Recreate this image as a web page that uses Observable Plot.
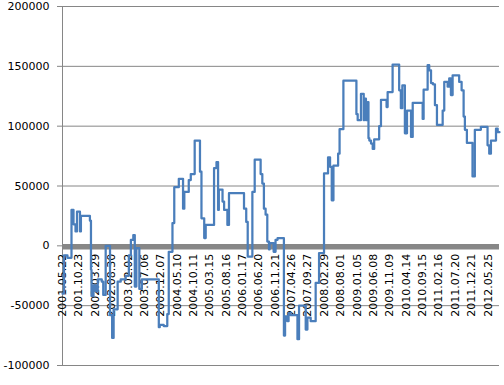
<!DOCTYPE html>
<html>
<head>
<meta charset="utf-8">
<script src="https://cdn.jsdelivr.net/npm/d3@7"></script>
<script src="https://cdn.jsdelivr.net/npm/@observablehq/plot@0.6"></script>
<style>
  html, body { margin: 0; padding: 0; background: #fff; }
  #chart { width: 504px; height: 385px; }
</style>
</head>
<body>
<div id="chart"></div>
<script>
// Tick labels shown along the category axis
const tickLabels = [
  "2001.05.22","2001.10.23","2002.03.29","2002.08.30","2003.02.02","2003.07.06",
  "2003.12.07","2004.05.10","2004.10.11","2005.03.15","2005.08.16","2006.01.17",
  "2006.06.20","2006.11.21","2007.04.26","2007.09.27","2008.02.29","2008.08.01",
  "2009.01.05","2009.06.08","2009.11.09","2010.04.14","2010.09.15","2011.02.16",
  "2011.07.20","2011.12.21","2012.05.25"
];
const yTicks = [-100000, -50000, 0, 50000, 100000, 150000, 200000];

// Series: dates where the level changes, and the level from that date on
const dates = [
  "2001-05-22","2001-06-05","2001-07-08","2001-08-15","2001-09-03","2001-09-22","2001-10-06",
  "2001-11-03","2001-11-12","2002-02-05","2002-02-15","2002-02-20","2002-03-11","2002-04-01",
  "2002-04-20","2002-05-28","2002-06-11","2002-07-04","2002-08-14","2002-09-03","2002-09-17",
  "2002-10-25","2002-11-23","2003-01-09","2003-02-08","2003-02-27","2003-03-22","2003-04-05",
  "2003-04-20","2003-05-18","2003-06-11","2003-11-18","2003-11-27","2004-01-03","2004-02-06",
  "2004-02-20","2004-03-26","2004-04-12","2004-05-25","2004-07-04","2004-07-16","2004-08-27",
  "2004-09-15","2004-10-22","2004-12-11","2004-12-25","2005-01-20","2005-02-03","2005-04-23",
  "2005-05-16","2005-05-31","2005-06-07","2005-07-12","2005-07-27","2005-08-27","2005-09-11",
  "2006-01-31","2006-02-21","2006-03-07","2006-04-20","2006-05-12","2006-07-07","2006-07-23",
  "2006-08-07","2006-08-23","2006-09-08","2006-09-24","2006-09-30","2006-11-07","2006-11-25",
  "2006-12-14","2007-02-12","2007-02-23","2007-03-16","2007-03-28","2007-04-16","2007-06-20",
  "2007-07-05","2007-09-06","2007-09-22","2007-10-23","2007-12-09","2008-01-10","2008-02-26",
  "2008-04-04","2008-04-23","2008-05-09","2008-05-25","2008-07-08","2008-07-22","2008-08-27",
  "2008-12-28","2009-01-09","2009-02-09","2009-03-07","2009-03-12","2009-03-28","2009-04-13",
  "2009-04-21","2009-04-29","2009-05-15","2009-05-31","2009-06-14","2009-07-31","2009-08-17",
  "2009-10-09","2009-10-19","2009-12-05","2010-02-05","2010-02-21","2010-03-07","2010-03-31",
  "2010-04-20","2010-05-28","2010-06-13","2010-09-15","2010-09-24","2010-11-01","2010-11-16",
  "2010-12-03","2010-12-21","2011-01-09","2011-01-28","2011-03-23","2011-04-07","2011-05-09",
  "2011-05-24","2011-06-09","2011-06-25","2011-08-26","2011-09-18","2011-10-07","2011-10-19",
  "2011-11-07","2011-12-30","2012-01-21","2012-03-18","2012-05-20","2012-06-05","2012-06-21",
  "2012-08-08","2012-08-24","2012-09-10"
];
const values = [
  -40000,-8000,-10000,30000,18000,12000,28500,
  12000,25000,21000,-20000,-42000,-33000,-38000,
  -28000,-30000,-41000,0,-58000,-77000,-53000,
  -30000,-28000,-25000,-8000,5000,9000,-34000,
  -2000,-36000,-28000,-68000,-66000,-67000,-57000,
  -5000,19000,49000,56000,31000,45000,55000,
  60000,88000,62000,23000,6500,17500,65000,
  70000,30000,47000,37000,30000,17500,44000,
  31000,20000,-9000,45000,72000,60000,52000,
  31000,26000,3600,-3000,2200,-5000,5000,
  6400,-75000,-59000,-63000,-56000,-58000,-78000,
  -50000,-70000,-60000,-63000,-31000,-6000,60500,
  74000,66000,38000,67000,77000,97500,138000,
  110000,105000,127000,105000,123000,105000,120000,
  90000,88000,85500,81000,89000,100000,122000,
  116000,128500,151500,130000,115000,134000,94000,
  113000,91000,119500,106000,130500,151000,146700,
  136000,135000,117500,101000,113000,137000,133000,
  140000,126000,142500,137000,130000,108000,97000,
  86000,58000,97000,99500,84000,77000,88000,
  98000,95000,95000
];

const parse = d3.utcParse("%Y-%m-%d");
const parseLabel = d3.utcParse("%Y.%m.%d");
const series = dates.map((d, i) => ({date: parse(d), value: values[i]}));
const labels = tickLabels.map(t => ({date: parseLabel(t), text: t}));

const gridColor = "#868686";

const chart = Plot.plot({
  width: 504,
  height: 385,
  marginLeft: 62,
  marginRight: 5,
  marginTop: 6,
  marginBottom: 20,
  style: {fontFamily: "'DejaVu Sans', Verdana, sans-serif", fontSize: "11px", background: "#fff", color: "#000"},
  x: {type: "utc", domain: [series[0].date, series[series.length - 1].date]},
  y: {domain: [-100000, 200000]},
  marks: [
    Plot.gridY(yTicks, {stroke: gridColor, strokeOpacity: 1, strokeWidth: 1}),
    Plot.ruleX([series[0].date], {stroke: gridColor, strokeWidth: 1}),
    Plot.axisY(yTicks, {
      tickSize: 5, tickPadding: 8, stroke: gridColor, fill: "#000",
      tickFormat: d => String(d), fontSize: 11, label: null
    }),
    Plot.axisX({ticks: [], label: null, tickSize: 0}),
    Plot.ruleY([0], {stroke: "#878787", strokeWidth: 5.5, dy: 1}),
    Plot.text(labels, {
      x: "date", y: () => 0, text: "text", rotate: -90,
      textAnchor: "end", dy: 8, fill: "#000", fontSize: 11
    }),
    Plot.line(series, {
      x: "date", y: "value", curve: "step-after",
      stroke: "#4a7ebb", strokeWidth: 2.25
    })
  ]
});
document.getElementById("chart").appendChild(chart);
</script>
</body>
</html>
